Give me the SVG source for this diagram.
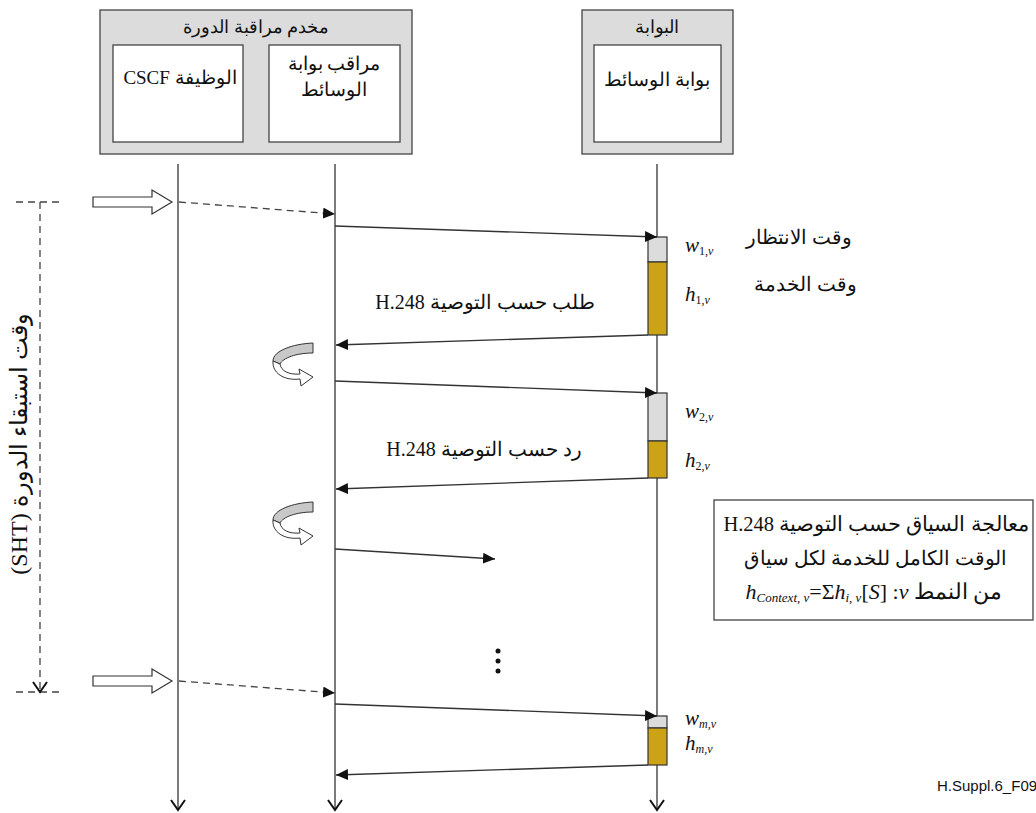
<svg xmlns="http://www.w3.org/2000/svg" width="1036" height="813" viewBox="0 0 1036 813">
<style>
.t{font-family:"Liberation Serif","DejaVu Serif",serif;fill:#111}
.m{font-family:"Liberation Serif",serif;font-style:italic;fill:#111}
.ln{stroke:#333;stroke-width:1.3;fill:none}
.dash{stroke:#444;stroke-width:1.3;fill:none;stroke-dasharray:7,5}
.outer{fill:#dcdcdc;stroke:#444;stroke-width:1.3}
.inner{fill:#fff;stroke:#444;stroke-width:1.3}
.wait{fill:#dcdcdc;stroke:#333;stroke-width:1.2}
.serv{fill:#cca317;stroke:#333;stroke-width:1.2}
.curlg{fill:#c8c8c8;stroke:#333;stroke-width:1}
.curlw{fill:#fff;stroke:#333;stroke-width:1}
</style>
<defs>
<marker id="ah" markerUnits="userSpaceOnUse" markerWidth="14" markerHeight="12" refX="12" refY="5.5" orient="auto">
<path d="M0,0 L12,5.5 L0,11 Z" fill="#111"/>
</marker>
<marker id="va" markerUnits="userSpaceOnUse" markerWidth="20" markerHeight="14" refX="8" refY="11" orient="0">
<path d="M1,1 L8,11 L15,1" fill="none" stroke="#111" stroke-width="2"/>
</marker>
</defs>

<g id="session-server">
<rect class="outer" x="100" y="10" width="312" height="144"/>
<text class="t" x="256" y="33" font-size="18" text-anchor="middle" direction="rtl">مخدم مراقبة الدورة</text>
</g>
<g id="cscf">
<rect class="inner" x="113" y="45" width="130" height="97"/>
<text class="t" x="180" y="84" font-size="19" text-anchor="middle" direction="rtl">الوظيفة CSCF</text>
</g>
<g id="mgc">
<rect class="inner" x="269" y="45" width="131" height="97"/>
<text class="t" x="334" y="70" font-size="19" text-anchor="middle" direction="rtl">مراقب بوابة</text>
<text class="t" x="334" y="96" font-size="19" text-anchor="middle" direction="rtl">الوسائط</text>
</g>
<g id="gateway">
<rect class="outer" x="582" y="10" width="151" height="144"/>
<text class="t" x="657" y="33" font-size="18" text-anchor="middle" direction="rtl">البوابة</text>
</g>
<g id="mg">
<rect class="inner" x="594" y="45" width="127" height="97"/>
<text class="t" x="657" y="86" font-size="19" text-anchor="middle" direction="rtl">بوابة الوسائط</text>
</g>

<g id="lifelines">
<line class="ln" x1="178" y1="164" x2="178" y2="810" marker-end="url(#va)"/>
<line class="ln" x1="335" y1="164" x2="335" y2="810" marker-end="url(#va)"/>
<line class="ln" x1="657" y1="164" x2="657" y2="810" marker-end="url(#va)"/>
</g>

<g id="sht">
<line class="dash" x1="16" y1="202" x2="64" y2="202"/>
<line class="dash" x1="16" y1="692" x2="64" y2="692"/>
<line class="dash" x1="40" y1="202" x2="40" y2="692" marker-end="url(#va)"/>
<text class="t" transform="translate(27,444) rotate(-90)" x="0" y="0" font-size="24" text-anchor="middle" direction="rtl">وقت استبقاء الدورة (SHT)</text>
</g>

<g id="activity-boxes">
<rect class="wait" x="648" y="237" width="19" height="25"/>
<rect class="serv" x="648" y="262" width="19" height="73"/>
<rect class="wait" x="648" y="393" width="19" height="48"/>
<rect class="serv" x="648" y="441" width="19" height="37"/>
<rect class="wait" x="648" y="716" width="19" height="12"/>
<rect class="serv" x="648" y="728" width="19" height="37"/>
</g>

<g id="connectors">
<path d="M93,197 H152 V190 L172,202 L152,214 V207 H93 Z" fill="#fff" stroke="#333" stroke-width="1.2"/>
<path d="M93,676 H152 V669 L172,681 L152,693 V686 H93 Z" fill="#fff" stroke="#333" stroke-width="1.2"/>
<line class="dash" x1="179" y1="202" x2="335" y2="214" marker-end="url(#ah)"/>
<line class="dash" x1="179" y1="681" x2="335" y2="693" marker-end="url(#ah)"/>
<line class="ln" x1="335" y1="226" x2="657" y2="237" marker-end="url(#ah)"/>
<line class="ln" x1="648" y1="335" x2="336" y2="345" marker-end="url(#ah)"/>
<line class="ln" x1="335" y1="381" x2="657" y2="393" marker-end="url(#ah)"/>
<line class="ln" x1="648" y1="478" x2="336" y2="489" marker-end="url(#ah)"/>
<line class="ln" x1="335" y1="549" x2="495" y2="559" marker-end="url(#ah)"/>
<line class="ln" x1="335" y1="704" x2="657" y2="716" marker-end="url(#ah)"/>
<line class="ln" x1="648" y1="765" x2="336" y2="775" marker-end="url(#ah)"/>
<g id="curl1">
<path class="curlg" d="M313,343 C292,344 273,351 273,361 L280,364 C283,358 296,353 313,353 Z"/>
<path class="curlw" d="M273,361 C272,373 284,381 300,379 L301,386 L313,377 L299,369 L300,374 C289,375 281,371 280,364 Z"/>
</g>
<g id="curl2" transform="translate(0,159)">
<path class="curlg" d="M313,343 C292,344 273,351 273,361 L280,364 C283,358 296,353 313,353 Z"/>
<path class="curlw" d="M273,361 C272,373 284,381 300,379 L301,386 L313,377 L299,369 L300,374 C289,375 281,371 280,364 Z"/>
</g>
<circle cx="498" cy="651" r="2.5" fill="#111"/>
<circle cx="498" cy="661" r="2.5" fill="#111"/>
<circle cx="498" cy="671" r="2.5" fill="#111"/>
</g>

<g id="labels">
<text class="t" x="485" y="309" font-size="20" text-anchor="middle" direction="rtl">طلب حسب التوصية H.248</text>
<text class="t" x="484" y="456" font-size="20" text-anchor="middle" direction="rtl">رد حسب التوصية H.248</text>
<text class="t" x="799" y="244" font-size="20" text-anchor="middle" direction="rtl">وقت الانتظار</text>
<text class="t" x="805" y="291" font-size="20" text-anchor="middle" direction="rtl">وقت الخدمة</text>
<text class="m" x="685" y="252" font-size="21">w<tspan font-size="12" font-style="normal" dy="3">1,</tspan><tspan font-size="12">v</tspan></text>
<text class="m" x="685" y="301" font-size="21">h<tspan font-size="12" font-style="normal" dy="3">1,</tspan><tspan font-size="12">v</tspan></text>
<text class="m" x="685" y="418" font-size="21">w<tspan font-size="12" font-style="normal" dy="3">2,</tspan><tspan font-size="12">v</tspan></text>
<text class="m" x="685" y="467" font-size="21">h<tspan font-size="12" font-style="normal" dy="3">2,</tspan><tspan font-size="12">v</tspan></text>
<text class="m" x="685" y="725" font-size="21">w<tspan font-size="12" dy="3">m,v</tspan></text>
<text class="m" x="685" y="750" font-size="21">h<tspan font-size="12" dy="3">m,v</tspan></text>
</g>

<g id="context-note">
<rect x="714" y="500" width="319" height="120" fill="#fff" stroke="#444" stroke-width="1.3"/>
<text class="t" x="876" y="531" font-size="20.5" text-anchor="middle" direction="rtl">معالجة السياق حسب التوصية H.248</text>
<text class="t" x="875" y="565" font-size="20" text-anchor="middle" direction="rtl">الوقت الكامل للخدمة لكل سياق</text>
<text class="t" x="874" y="599" font-size="22" text-anchor="middle" direction="ltr"><tspan font-style="italic">h</tspan><tspan font-style="italic" font-size="13" dy="3">Context, v</tspan><tspan dy="-3">=Σ</tspan><tspan font-style="italic">h</tspan><tspan font-style="italic" font-size="13" dy="3">i, v</tspan><tspan dy="-3">[</tspan><tspan font-style="italic">S</tspan><tspan>] :</tspan><tspan font-style="italic">v</tspan><tspan> من النمط</tspan></text>
</g>

<text x="937" y="791" font-family="Liberation Sans, Arial, sans-serif" font-size="15" fill="#111">H.Suppl.6_F09</text>
</svg>
